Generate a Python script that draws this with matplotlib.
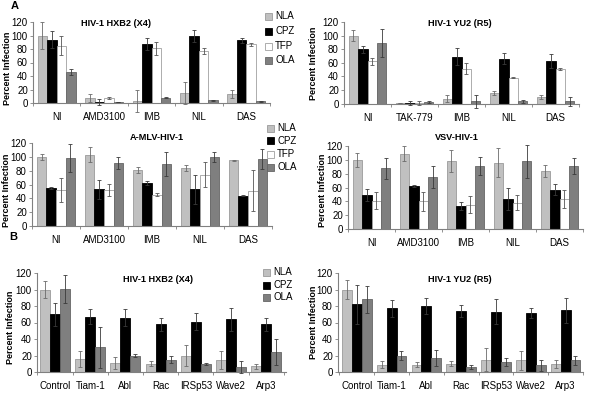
import numpy as np
import matplotlib.pyplot as plt
from matplotlib.patches import Rectangle

plt.rcParams['font.family'] = ['Liberation Sans', 'DejaVu Sans']

W, H = 589, 395

# ---- categories ----
drugs_x4 = ['NI', 'AMD3100', 'IMB', 'NIL', 'DAS']
drugs_r5 = ['NI', 'TAK-779', 'IMB', 'NIL', 'DAS']
sirna = ['Control', 'Tiam-1', 'Abl', 'Rac', 'IRSp53', 'Wave2', 'Arp3']

# ---- A: HIV-1 HXB2 (X4) ----
hxb2_nla = [100, 8, 3, 15, 13]
hxb2_nla_err = [20, 6, 16, 16, 6]
hxb2_cpz = [94, 1.5, 88, 99, 93]
hxb2_cpz_err = [13, 4, 9, 9, 4]
hxb2_tfp = [85, 7, 81, 77, 87]
hxb2_tfp_err = [14, 1.5, 10, 5, 2.5]
hxb2_ola = [46, 1.5, 8, 4, 2.5]
hxb2_ola_err = [5, 0.5, 1, 0.5, 0.5]

# ---- A: HIV-1 YU2 (R5) ----
yu2_nla = [100, 1, 7, 15, 10]
yu2_nla_err = [8, 0, 5, 3, 3]
yu2_cpz = [80, 0.5, 69, 66, 63]
yu2_cpz_err = [5, 3, 12, 8, 10]
yu2_tfp = [62, 1, 51, 38, 51]
yu2_tfp_err = [5, 3, 8, 1, 1]
yu2_ola = [89, 2, 3, 3, 3]
yu2_ola_err = [21, 1, 9, 2, 6]

# ---- A: A-MLV-HIV-1 ----
amlv_nla = [100, 103, 81, 84, 95]
amlv_nla_err = [4, 11, 4, 4, 1]
amlv_cpz = [55, 53, 62, 53, 44]
amlv_cpz_err = [1, 14, 3, 21, 1]
amlv_tfp = [52, 52, 45, 74, 51]
amlv_tfp_err = [17, 9, 2, 18, 30]
amlv_ola = [98, 91, 90, 100, 97]
amlv_ola_err = [20, 9, 17, 7, 14]

# ---- A: VSV-HIV-1 ----
vsv_nla = [100, 109, 98, 96, 84]
vsv_nla_err = [10, 11, 16, 21, 9]
vsv_cpz = [49, 62, 33, 43, 57]
vsv_cpz_err = [9, 1, 6, 16, 8]
vsv_tfp = [41, 40, 35, 38, 43]
vsv_tfp_err = [12, 14, 12, 11, 13]
vsv_ola = [88, 75, 91, 98, 91]
vsv_ola_err = [15, 16, 13, 24, 12]

# ---- B: HIV-1 HXB2 (X4) ----
b_hxb2_nla = [100, 16, 11, 10, 20, 15, 7]
b_hxb2_nla_err = [10, 10, 7, 3, 13, 11, 3]
b_hxb2_cpz = [70, 67, 66, 58, 61, 64, 58]
b_hxb2_cpz_err = [14, 9, 10, 8, 10, 14, 8]
b_hxb2_ola = [101, 30, 20, 15, 10, 6, 24]
b_hxb2_ola_err = [17, 25, 2, 4, 1, 7, 16]

# ---- B: HIV-1 YU2 (R5) ----
b_yu2_nla = [100, 9, 9, 10, 15, 14, 10]
b_yu2_nla_err = [11, 4, 3, 3, 14, 12, 5]
b_yu2_cpz = [82, 77, 80, 74, 73, 72, 75]
b_yu2_cpz_err = [24, 10, 10, 7, 15, 6, 15]
b_yu2_ola = [88, 20, 17, 6, 12, 8, 14]
b_yu2_ola_err = [16, 6, 10, 2, 5, 7, 5]

# colours: face, edge, errorbar
NLA = ('#c0c0c0', '#9a9a9a', '#6a6a6a')
CPZ = ('#000000', '#000000', '#3a3a3a')
TFP = ('#ffffff', '#a0a0a0', '#555555')
OLA = ('#7f7f7f', '#666666', '#3a3a3a')

fig = plt.figure(figsize=(W / 100, H / 100), dpi=100)


def px_axes(left, top, right, bottom):
    return fig.add_axes([left / W, 1 - bottom / H, (right - left) / W, (bottom - top) / H])


def draw_panel(box, cats, series, xlim, width):
    ax = px_axes(*box)
    x = np.arange(len(cats))
    n = len(series)
    for i, (vals, errs, style) in enumerate(series):
        face, edge, ecol = style
        pos = x + (i - (n - 1) / 2) * width
        ax.bar(pos, vals, width, color=face, edgecolor=edge, linewidth=0.6, zorder=2)
        eb = ax.errorbar(pos, vals, yerr=errs, fmt='none', ecolor=ecol,
                         elinewidth=0.6, capsize=1.6, capthick=0.6, zorder=3)
        for art in list(eb[1]) + list(eb[2]):
            art.set_clip_on(False)
    ax.set_xlim(*xlim)
    ax.set_ylim(0, 120)
    ax.set_yticks(range(0, 121, 20))
    ax.set_xticks(x)
    ax.set_xticklabels(cats)
    ax.set_xticks(np.arange(len(cats) + 1) - 0.5, minor=True)
    ax.tick_params(axis='x', which='major', length=0, pad=6.5, labelsize=7)
    ax.tick_params(axis='x', which='minor', length=2.2, width=0.6, color='#808080')
    ax.tick_params(axis='y', length=2.2, width=0.6, color='#808080', pad=1.5, labelsize=7)
    ax.spines['top'].set_visible(False)
    ax.spines['right'].set_visible(False)
    for s in ['left', 'bottom']:
        ax.spines[s].set_color('#808080')
        ax.spines[s].set_linewidth(0.8)
    return ax


def ftext(x, y, s, **kw):
    fig.text(x / W, 1 - y / H, s, **kw)


def legend(x, ys, names, styles):
    for y, name, st in zip(ys, names, styles):
        fig.patches.append(Rectangle((x / W, 1 - (y + 3.5) / H), 7 / W, 7 / H,
                                     facecolor=st[0], edgecolor=st[1], linewidth=0.6,
                                     transform=fig.transFigure, figure=fig))
        ftext(x + 10, y, name, fontsize=7, va='center', ha='left')


# A
draw_panel((33, 22, 270, 103), drugs_x4,
           [(hxb2_nla, hxb2_nla_err, NLA), (hxb2_cpz, hxb2_cpz_err, CPZ),
            (hxb2_tfp, hxb2_tfp_err, TFP), (hxb2_ola, hxb2_ola_err, OLA)],
           (-0.5, 4.5), 0.2)
draw_panel((344, 22, 579, 103.5), drugs_r5,
           [(yu2_nla, yu2_nla_err, NLA), (yu2_cpz, yu2_cpz_err, CPZ),
            (yu2_tfp, yu2_tfp_err, TFP), (yu2_ola, yu2_ola_err, OLA)],
           (-0.5, 4.5), 0.2)
draw_panel((32, 143, 272, 226), drugs_x4,
           [(amlv_nla, amlv_nla_err, NLA), (amlv_cpz, amlv_cpz_err, CPZ),
            (amlv_tfp, amlv_tfp_err, TFP), (amlv_ola, amlv_ola_err, OLA)],
           (-0.5, 4.5), 0.2)
draw_panel((348, 146, 583, 229), drugs_x4,
           [(vsv_nla, vsv_nla_err, NLA), (vsv_cpz, vsv_cpz_err, CPZ),
            (vsv_tfp, vsv_tfp_err, TFP), (vsv_ola, vsv_ola_err, OLA)],
           (-0.45, 4.5), 0.2)

# B
draw_panel((37, 273, 286, 372), sirna,
           [(b_hxb2_nla, b_hxb2_nla_err, NLA), (b_hxb2_cpz, b_hxb2_cpz_err, CPZ),
            (b_hxb2_ola, b_hxb2_ola_err, OLA)],
           (-0.51, 6.56), 0.284)
draw_panel((338, 273, 583, 372), sirna,
           [(b_yu2_nla, b_yu2_nla_err, NLA), (b_yu2_cpz, b_yu2_cpz_err, CPZ),
            (b_yu2_ola, b_yu2_ola_err, OLA)],
           (-0.54, 6.46), 0.284)

# titles
tkw = dict(fontsize=6.6, fontweight='bold', ha='center', va='center')
ftext(116, 24, 'HIV-1 HXB2 (X4)', **tkw)
ftext(460, 24, 'HIV-1 YU2 (R5)', **tkw)
ftext(157, 138, 'A-MLV-HIV-1', **tkw)
ftext(457, 138, 'VSV-HIV-1', **tkw)
ftext(158, 280, 'HIV-1 HXB2 (X4)', **tkw)
ftext(460, 280, 'HIV-1 YU2 (R5)', **tkw)

# y labels
ykw = dict(fontsize=6.5, fontweight='bold', rotation=90, ha='center', va='center')
ftext(8, 68, 'Percent Infection', **ykw)
ftext(313, 63, 'Percent Infection', **ykw)
ftext(7, 190, 'Percent Infection', **ykw)
ftext(322, 190, 'Percent Infection', **ykw)
ftext(11, 327, 'Percent Infection', **ykw)
ftext(313, 322, 'Percent Infection', **ykw)

# panel letters
ftext(15, 6, 'A', fontsize=8, fontweight='bold', ha='center', va='center')
ftext(13, 237, 'B', fontsize=8, fontweight='bold', ha='center', va='center')

# legends
legend(265, [16, 31, 46, 60], ['NLA', 'CPZ', 'TFP', 'OLA'], [NLA, CPZ, TFP, OLA])
legend(267, [128, 141, 154, 167], ['NLA', 'CPZ', 'TFP', 'OLA'], [NLA, CPZ, TFP, OLA])
legend(263, [272, 285, 297], ['NLA', 'CPZ', 'OLA'], [NLA, CPZ, OLA])

fig.savefig('out.png', dpi=100)
